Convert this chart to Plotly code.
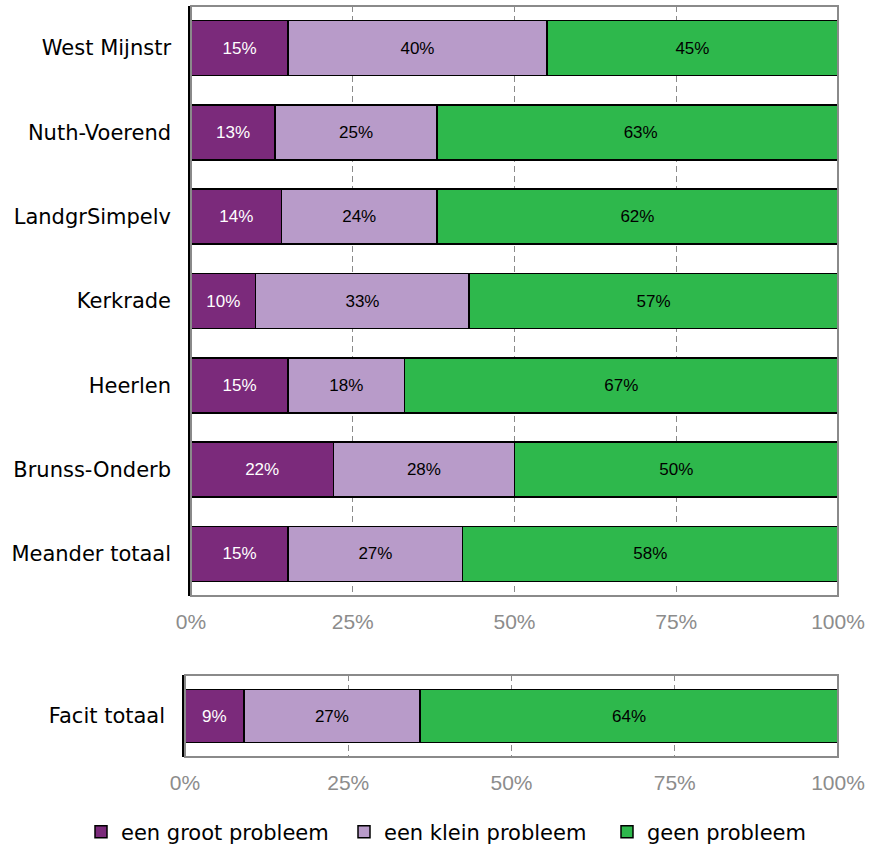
import plotly.graph_objects as go

# Survey answers per area (percentages)
areas = ["West Mijnstr", "Nuth-Voerend", "LandgrSimpelv", "Kerkrade",
         "Heerlen", "Brunss-Onderb", "Meander totaal"]
groot = [15, 13, 14, 10, 15, 22, 15]
klein = [40, 25, 24, 33, 18, 28, 27]
geen = [45, 63, 62, 57, 67, 50, 58]

facit_area = ["Facit totaal"]
facit_groot = [9]
facit_klein = [27]
facit_geen = [64]

series_names = ["een groot probleem", "een klein probleem", "geen probleem"]
series_colors = ["#7B2A7B", "#B89BC9", "#2EB84C"]
text_colors = ["white", "black", "black"]

tick_vals = [0, 25, 50, 75, 100]
tick_text = ["0%", "25%", "50%", "75%", "100%"]

W, H = 869, 849
SANS = "Liberation Sans, Arial, Helvetica, sans-serif"
WIDE = "DejaVu Sans, Verdana, sans-serif"

fig = go.Figure()

top_sets = [groot, klein, geen]
bottom_sets = [facit_groot, facit_klein, facit_geen]
for i in range(3):
    bar_style = dict(
        orientation="h", name=series_names[i],
        marker=dict(color=series_colors[i], line=dict(color="black", width=1.5)),
        textposition="inside", insidetextanchor="middle", textangle=0,
        textfont=dict(color=text_colors[i], size=17, family=SANS),
        legendgroup=series_names[i],
    )
    fig.add_trace(go.Bar(
        y=areas, x=top_sets[i], text=[f"{v}%" for v in top_sets[i]],
        xaxis="x", yaxis="y", showlegend=True, **bar_style,
    ))
    fig.add_trace(go.Bar(
        y=facit_area, x=bottom_sets[i], text=[f"{v}%" for v in bottom_sets[i]],
        xaxis="x2", yaxis="y2", showlegend=False, **bar_style,
    ))

# pixel-based domains
top_x = [191 / W, 838 / W]
top_y = [1 - 596 / H, 1 - 6 / H]
bot_x = [185 / W, 838 / W]
bot_y = [1 - 757 / H, 1 - 675 / H]

xaxis_common = dict(
    range=[0, 100], tickvals=tick_vals, ticktext=tick_text,
    showgrid=True, gridcolor="#8a8a8a", gridwidth=1, griddash="6px,4px",
    zeroline=False, showline=False, ticks="",
    tickfont=dict(size=21, color="#8c8c8c", family=SANS),
    ticklabelstandoff=11, fixedrange=True, automargin=False,
)
yaxis_common = dict(
    showgrid=False, zeroline=False, showline=True, linecolor="black",
    linewidth=2.5, ticks="", autorange="reversed",
    tickfont=dict(size=21, color="black", family=WIDE),
    ticklabelstandoff=13, automargin=False,
)

fig.update_layout(
    width=W, height=H,
    margin=dict(l=0, r=0, t=0, b=0, autoexpand=False),
    paper_bgcolor="white", plot_bgcolor="white",
    barmode="stack", bargap=0.348,
    font=dict(family=SANS, color="black"),
    xaxis=dict(domain=top_x, anchor="y", **xaxis_common),
    yaxis=dict(domain=top_y, anchor="x", **yaxis_common),
    xaxis2=dict(domain=bot_x, anchor="y2", **xaxis_common),
    yaxis2=dict(domain=bot_y, anchor="x2", **yaxis_common),
    legend=dict(
        orientation="h", x=81 / W, xanchor="left", y=1 - 832 / H,
        yanchor="middle", font=dict(size=21, color="black", family=WIDE),
        traceorder="normal", itemwidth=30, entrywidth=218,
        entrywidthmode="pixels",
    ),
    showlegend=True,
)

# gray frame around each panel (left side is the black axis line)
for xr, yr in (("x domain", "y domain"), ("x2 domain", "y2 domain")):
    fig.add_shape(type="rect", xref=xr, yref=yr, x0=0, x1=1, y0=0, y1=1,
                  line=dict(color="#8a8a8a", width=2), layer="above")

fig.write_html("out.html")
